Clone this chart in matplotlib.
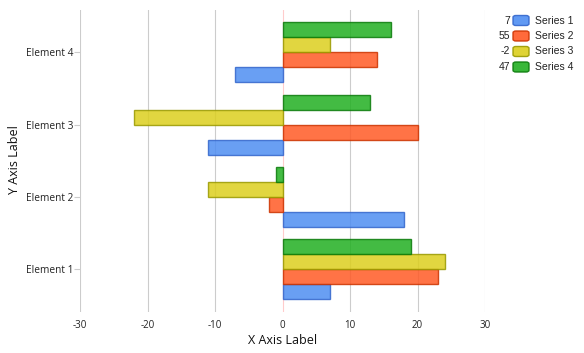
import matplotlib
matplotlib.use("Agg")
import matplotlib.pyplot as plt
from matplotlib.patches import FancyBboxPatch
import numpy as np

# Data
categories = ["Element 1", "Element 2", "Element 3", "Element 4"]
series_names = ["Series 1", "Series 2", "Series 3", "Series 4"]
series_1 = [7, 18, -11, -7]
series_2 = [23, -2, 20, 14]
series_3 = [24, -11, -22, 7]
series_4 = [19, -1, 13, 16]
x_ticks = [-30, -20, -10, 0, 10, 20, 30]

# Styles
face_colors = ["#4f8ef2", "#ff5a26", "#dccf1e", "#22b022"]
edge_colors = ["#3366cc", "#cc3300", "#999900", "#0b7a0b"]

W, H = 584, 353
fig = plt.figure(figsize=(W / 100, H / 100), dpi=100)
ax = fig.add_axes([80 / W, 1 - 312 / H, 405 / W, 302 / H])

series = [series_1, series_2, series_3, series_4]
y = np.arange(len(categories))
bar_h = 0.208
for i, vals in enumerate(series):
    ax.barh(y + (i - 1.5) * bar_h, vals, height=bar_h, color=face_colors[i],
            alpha=0.85, edgecolor=edge_colors[i], linewidth=1.0, zorder=3)

# grid & zero line
for t in x_ticks:
    ax.axvline(t, color="#ffcccc" if t == 0 else "#cccccc", lw=0.8, zorder=1)

ax.set_xlim(-30, 30)
ax.set_ylim(-0.596, 3.587)
for s in ax.spines.values():
    s.set_visible(False)

ax.set_xticks(x_ticks)
ax.set_xticklabels([str(t) for t in x_ticks], fontfamily="Open Sans", fontsize=7, color="#222222")
ax.tick_params(axis="x", length=0, pad=6)
ax.set_yticks(y)
ax.set_yticklabels(categories, fontfamily="Open Sans", fontsize=7.3, color="#222222")
ax.tick_params(axis="y", length=4, color="#cccccc", pad=1)

ax.set_xlabel("X Axis Label", fontfamily="Open Sans", fontsize=9, color="#111111", labelpad=2)
fig.text(14 / W, 1 - 160 / H, "Y Axis Label", rotation=90, ha="center", va="center",
         fontfamily="Open Sans", fontsize=9, color="#111111")

# legend with series totals
totals = [sum(v) for v in series]
leg_y = [20.5, 36, 51.5, 67]
for i, name in enumerate(series_names):
    yc = 1 - leg_y[i] / H
    fig.text(510 / W, yc, str(totals[i]), ha="right", va="center",
             fontfamily="Liberation Sans", fontsize=7.5, color="#222222")
    fig.patches.append(FancyBboxPatch((513 / W, yc - 5 / H), 16 / W, 10 / H,
                                      boxstyle="round,pad=0,rounding_size=0.005",
                                      transform=fig.transFigure, facecolor=face_colors[i],
                                      alpha=0.9, edgecolor=edge_colors[i], lw=1))
    fig.text(535 / W, yc, name, ha="left", va="center",
             fontfamily="Liberation Sans", fontsize=7.5, color="#222222")

fig.savefig("out.png", dpi=100)
